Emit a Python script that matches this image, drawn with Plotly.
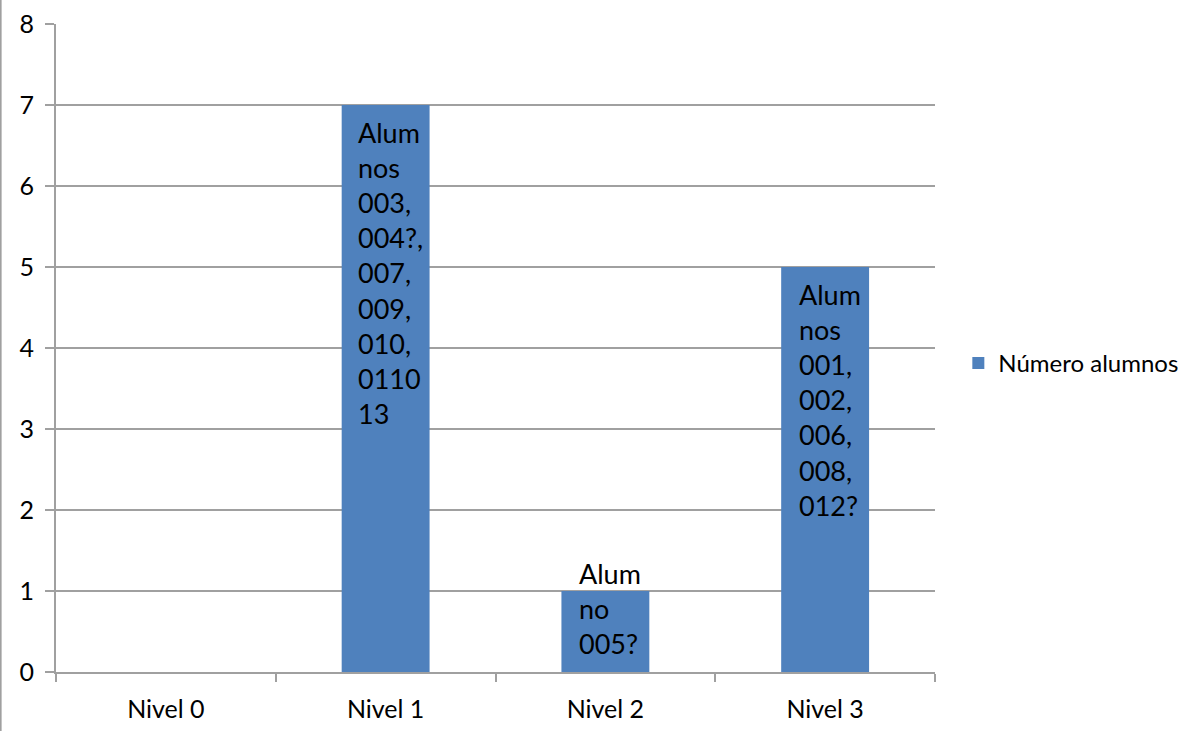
import plotly.graph_objects as go

# Data
categories = ["Nivel 0", "Nivel 1", "Nivel 2", "Nivel 3"]
num_alumnos = [0, 7, 1, 5]
series_name = "Número alumnos"
bar_labels = [
    "",
    "Alum<br>nos<br>003,<br>004?,<br>007,<br>009,<br>010,<br>0110<br>13",
    "Alum<br>no<br>005?",
    "Alum<br>nos<br>001,<br>002,<br>006,<br>008,<br>012?",
]
y_ticks = list(range(0, 9))

BAR_COLOR = "#4F81BD"
GRID_COLOR = "#A0A0A0"
FONT = "Lato"

fig = go.Figure()
fig.add_trace(go.Bar(
    x=categories,
    y=num_alumnos,
    name=series_name,
    marker=dict(color=BAR_COLOR, line=dict(width=0)),
    showlegend=True,
))

# Data labels placed inside the top of each bar; short bars keep the
# label block inside the plot area by anchoring it to the baseline.
for cat, val, lab in zip(categories, num_alumnos, bar_labels):
    if not lab:
        continue
    n_lines = lab.count("<br>") + 1
    fits = val * 81 > n_lines * 35 + 20
    fig.add_annotation(
        x=cat,
        y=val if fits else 0,
        yanchor="top" if fits else "bottom",
        yshift=-9 if fits else 10,
        xanchor="center",
        xshift=5,
        align="left",
        text=lab,
        showarrow=False,
        font=dict(family=FONT, size=27, color="#000000"),
    )

fig.update_layout(
    width=1189,
    height=731,
    margin=dict(l=56, r=254, t=24, b=59, autoexpand=False),
    paper_bgcolor="white",
    plot_bgcolor="white",
    bargap=0.6,
    font=dict(family=FONT, size=25, color="#000000"),
    legend=dict(
        xref="container", yref="container",
        x=0.806, y=0.503, xanchor="left", yanchor="middle",
        font=dict(family=FONT, size=24, color="#000000"),
        bgcolor="rgba(0,0,0,0)",
        itemwidth=30,
    ),
    xaxis=dict(
        type="category",
        showgrid=False,
        showline=True,
        linecolor=GRID_COLOR,
        linewidth=2,
        ticks="outside",
        tickson="boundaries",
        ticklen=8,
        tickwidth=2,
        tickcolor=GRID_COLOR,
        tickfont=dict(family=FONT, size=25),
        ticklabelstandoff=14,
        fixedrange=True,
    ),
    yaxis=dict(
        range=[0, 8],
        tickvals=y_ticks,
        showgrid=True,
        gridcolor=GRID_COLOR,
        gridwidth=2,
        showline=True,
        linecolor=GRID_COLOR,
        linewidth=2,
        ticks="outside",
        ticklen=9,
        tickwidth=2,
        tickcolor=GRID_COLOR,
        tickfont=dict(family=FONT, size=25),
        ticklabelstandoff=6,
        zeroline=False,
    ),
    shapes=[
        dict(type="line", xref="paper", yref="paper",
             x0=-0.063, x1=-0.063, y0=-0.1, y1=1.05,
             line=dict(color=GRID_COLOR, width=2)),
    ],
)

fig.write_html("out.html")
